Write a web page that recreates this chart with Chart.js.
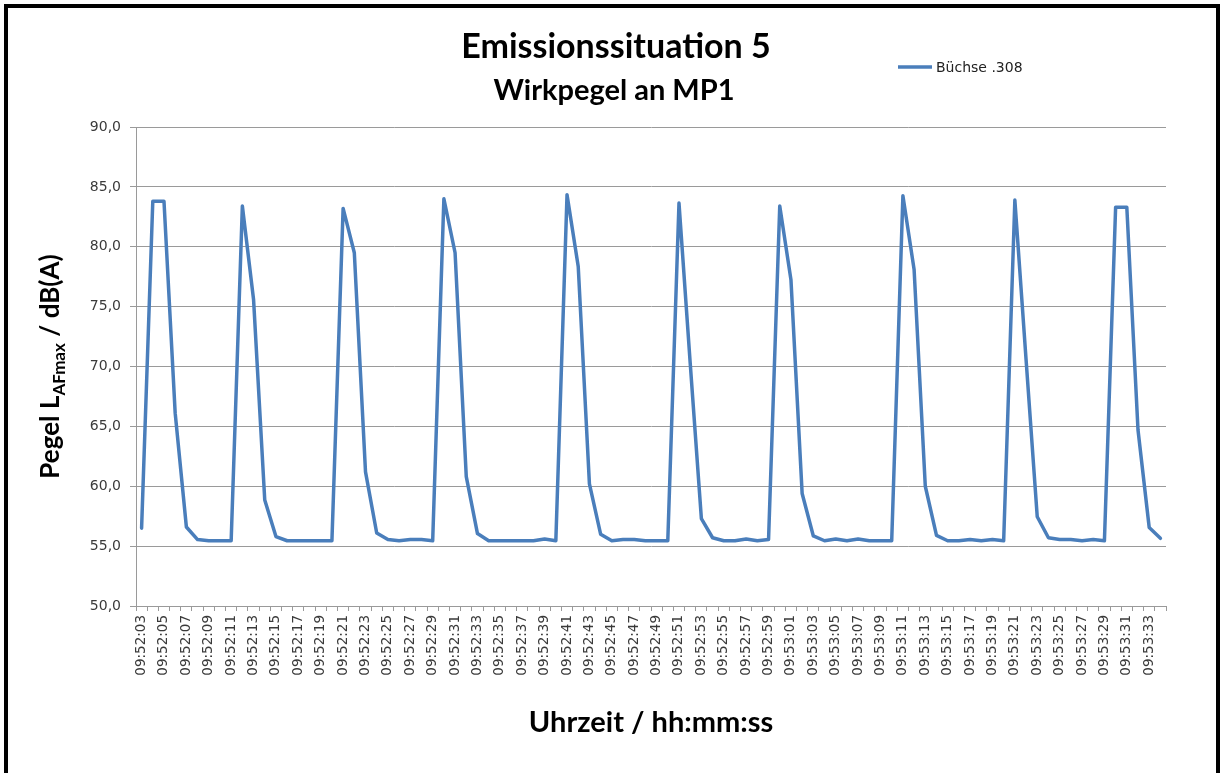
<!DOCTYPE html>
<html>
<head>
<meta charset="utf-8">
<script src="https://cdn.jsdelivr.net/npm/chart.js@4"></script>
<style>
  body { margin: 0; background: #fff; }
  #wrap { position: relative; width: 1223px; height: 773px; overflow: hidden; }
  #frame {
    position: absolute; left: 4px; top: 4px; width: 1208px; height: 800px;
    border: 4px solid #000; pointer-events: none;
  }
</style>
</head>
<body>
<div id="wrap">
  <canvas id="chart" width="1223" height="773"></canvas>
  <div id="frame"></div>
</div>
<script>
// ===== Data =====
const timeLabels = [
  '09:52:03','09:52:04','09:52:05','09:52:06','09:52:07','09:52:08','09:52:09','09:52:10',
  '09:52:11','09:52:12','09:52:13','09:52:14','09:52:15','09:52:16','09:52:17','09:52:18',
  '09:52:19','09:52:20','09:52:21','09:52:22','09:52:23','09:52:24','09:52:25','09:52:26',
  '09:52:27','09:52:28','09:52:29','09:52:30','09:52:31','09:52:32','09:52:33','09:52:34',
  '09:52:35','09:52:36','09:52:37','09:52:38','09:52:39','09:52:40','09:52:41','09:52:42',
  '09:52:43','09:52:44','09:52:45','09:52:46','09:52:47','09:52:48','09:52:49','09:52:50',
  '09:52:51','09:52:52','09:52:53','09:52:54','09:52:55','09:52:56','09:52:57','09:52:58',
  '09:52:59','09:53:00','09:53:01','09:53:02','09:53:03','09:53:04','09:53:05','09:53:06',
  '09:53:07','09:53:08','09:53:09','09:53:10','09:53:11','09:53:12','09:53:13','09:53:14',
  '09:53:15','09:53:16','09:53:17','09:53:18','09:53:19','09:53:20','09:53:21','09:53:22',
  '09:53:23','09:53:24','09:53:25','09:53:26','09:53:27','09:53:28','09:53:29','09:53:30',
  '09:53:31','09:53:32','09:53:33','09:53:34'
];

// LAFmax in dB(A), one value per second
const buechse308 = [
  56.5, 83.8, 83.8, 66.1, 56.6, 55.55, 55.45, 55.45,
  55.45, 83.4, 75.6, 58.85, 55.8, 55.45, 55.45, 55.45,
  55.45, 55.45, 83.2, 79.5, 61.2, 56.1, 55.55, 55.45,
  55.55, 55.55, 55.45, 84.0, 79.5, 60.8, 56.05, 55.45,
  55.45, 55.45, 55.45, 55.45, 55.6, 55.45, 84.35, 78.35,
  60.2, 56.0, 55.45, 55.55, 55.55, 55.45, 55.45, 55.45,
  83.65, 70.3, 57.3, 55.7, 55.45, 55.45, 55.6, 55.45,
  55.55, 83.4, 77.25, 59.4, 55.85, 55.45, 55.6, 55.45,
  55.6, 55.45, 55.45, 55.45, 84.25, 78.1, 60.0, 55.9,
  55.45, 55.45, 55.55, 55.45, 55.55, 55.45, 83.9, 70.6,
  57.45, 55.7, 55.55, 55.55, 55.45, 55.55, 55.45, 83.3,
  83.3, 64.7, 56.55, 55.65
];

const seriesName = 'Büchse .308';
const yMin = 50, yMax = 90, yStep = 5;

const lineColor = '#4a7ebb';
const gridColor = '#9a9a9a';
const tickColor = '#3a3a3a';

// ===== Titles, legend and y title with subscript =====
const decorations = {
  id: 'decorations',
  afterDraw(chart) {
    const ctx = chart.ctx;
    const area = chart.chartArea;
    ctx.save();
    ctx.fillStyle = '#000';
    ctx.textAlign = 'center';
    ctx.textBaseline = 'alphabetic';

    ctx.font = 'bold 34px Lato';
    ctx.fillText('Emissionssituation 5', 616, 58);
    ctx.font = 'bold 29px Lato';
    ctx.fillText('Wirkpegel an MP1', 614, 100);

    // x axis title
    ctx.font = 'bold 29px Lato';
    ctx.fillText('Uhrzeit / hh:mm:ss', (area.left + area.right) / 2, 732);

    // legend
    ctx.strokeStyle = lineColor;
    ctx.lineWidth = 3.5;
    ctx.beginPath();
    ctx.moveTo(898, 67);
    ctx.lineTo(932, 67);
    ctx.stroke();
    ctx.textAlign = 'left';
    ctx.textBaseline = 'middle';
    ctx.font = '14px "DejaVu Sans"';
    ctx.fillStyle = '#222';
    ctx.fillText(seriesName, 936, 68);

    // y axis title, rotated, with subscript
    const mainFont = 'bold 26px Lato';
    const subFont = 'bold 17px Lato';
    const parts = [
      { t: 'Pegel L', f: mainFont, dy: 0 },
      { t: 'AFmax', f: subFont, dy: 6 },
      { t: ' / dB(A)', f: mainFont, dy: 0 }
    ];
    let total = 0;
    parts.forEach(p => { ctx.font = p.f; p.w = ctx.measureText(p.t).width; total += p.w; });
    ctx.translate(59, (area.top + area.bottom) / 2);
    ctx.rotate(-Math.PI / 2);
    ctx.textAlign = 'left';
    ctx.textBaseline = 'alphabetic';
    ctx.fillStyle = '#000';
    let x = -total / 2;
    parts.forEach(p => {
      ctx.font = p.f;
      ctx.fillText(p.t, x, p.dy);
      x += p.w;
    });
    ctx.restore();
  }
};

const ctx = document.getElementById('chart').getContext('2d');
const chart = new Chart(ctx, {
  type: 'line',
  data: {
    labels: timeLabels,
    datasets: [{
      label: seriesName,
      data: buechse308,
      borderColor: lineColor,
      backgroundColor: lineColor,
      borderWidth: 3.5,
      pointRadius: 0,
      tension: 0,
      borderJoinStyle: 'round',
      borderCapStyle: 'round'
    }]
  },
  options: {
    responsive: false,
    devicePixelRatio: 1,
    animation: false,
    layout: { padding: { top: 127, right: 57, left: 0, bottom: 0 } },
    plugins: {
      legend: { display: false },
      title: { display: false },
      tooltip: { enabled: false }
    },
    scales: {
      x: {
        offset: true,
        afterFit: s => { s.height = 167; },
        grid: { drawOnChartArea: false, offset: true, tickLength: 5, color: gridColor },
        border: { color: gridColor },
        ticks: {
          autoSkip: false,
          minRotation: 90,
          maxRotation: 90,
          padding: 4,
          color: tickColor,
          font: { family: 'DejaVu Sans', size: 13.5 },
          callback: (v, i) => (i % 2 === 0 ? timeLabels[i] : '')
        }
      },
      y: {
        min: yMin,
        max: yMax,
        afterFit: s => { s.width = 136; },
        grid: { color: gridColor, tickLength: 6 },
        border: { color: gridColor },
        ticks: {
          stepSize: yStep,
          padding: 9,
          color: tickColor,
          font: { family: 'DejaVu Sans', size: 14 },
          callback: v => v.toFixed(1).replace('.', ',')
        }
      }
    }
  },
  plugins: [decorations]
});
</script>
</body>
</html>
